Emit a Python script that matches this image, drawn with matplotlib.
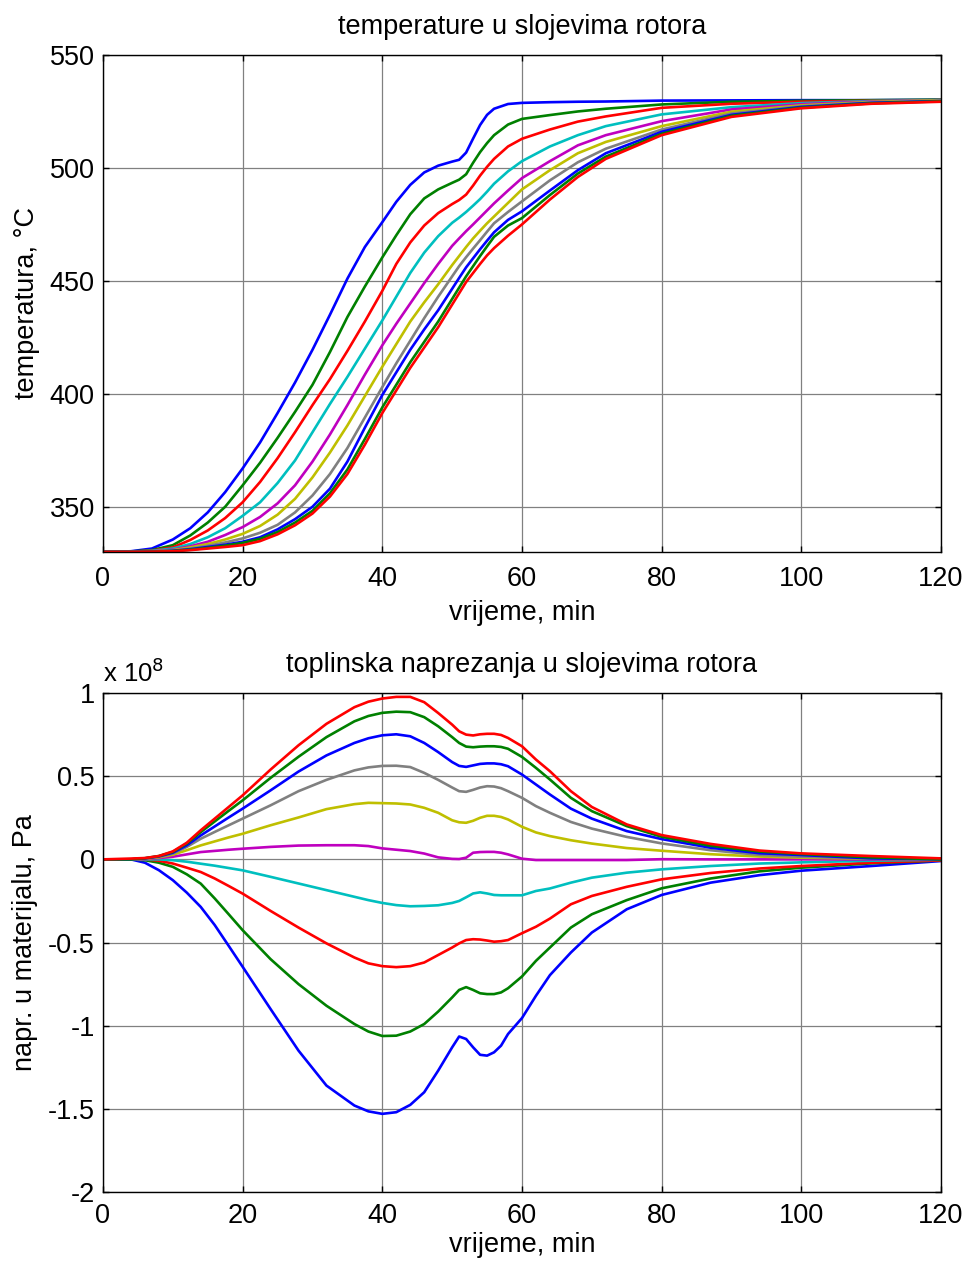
import matplotlib
matplotlib.use("Agg")
import matplotlib.pyplot as plt

plt.rcParams['font.family'] = ['Liberation Sans', 'DejaVu Sans']
plt.rcParams['axes.unicode_minus'] = False

# ---- temperature in rotor layers (deg C), layer 1 = outer surface ----
time_temp = [0, 4, 7, 10, 12.5, 15, 17.5, 20, 22.5, 25, 27.5, 30, 32.5, 35, 37.5, 40,
             42, 44, 46, 48, 50, 51, 52, 53, 54, 55, 56, 58, 60, 64, 68, 72, 80, 90,
             100, 110, 120]
temp_layer1 = [330, 330.3, 331.5, 335.5, 340.5, 347.5, 356.5, 367, 378.5, 391.5, 405, 419.5,
               435, 451, 465, 476, 485, 492.5, 498, 501, 502.8, 503.6, 506.8, 513, 519,
               523.5, 526.2, 528.3, 528.8, 529.1, 529.3, 529.4, 529.8, 529.9, 530, 530, 530.2]
temp_layer2 = [330, 330.2, 330.8, 333, 337.3, 343, 350, 359.5, 369.5, 380.5, 392, 404,
               418.5, 434, 447.5, 460.4, 470.2, 479.5, 486.5, 490.5, 493.4, 494.8, 497.2,
               502.3, 507, 511, 514.5, 519.2, 521.7, 523.4, 525, 526.2, 528.1, 529.3, 529.7,
               530, 530.2]
temp_layer3 = [330, 330.1, 330.6, 332, 335.3, 339.5, 345, 352, 361, 371.5, 383, 395, 406.5,
               419, 432, 445.6, 457.5, 467, 474.5, 480, 484, 485.8, 488.2, 492.2, 496.6,
               500.5, 504, 509.5, 512.9, 517, 520.5, 522.8, 526.6, 528.4, 529.3, 529.7, 530]
temp_layer4 = [330, 330.1, 330.5, 331.5, 333.5, 336.5, 340.5, 346, 352, 360.5, 370.5, 383,
               395.5, 407.5, 420, 432.5, 443, 453.5, 462.5, 469.8, 475.7, 478, 480.5, 483.3,
               486.2, 489.5, 493, 498.5, 503, 509.5, 514.5, 518.5, 523.7, 526.9, 528.7,
               529.6, 530]
temp_layer5 = [330, 330.05, 330.3, 331, 332.5, 334.5, 337.5, 341, 345.5, 351.5, 359.5, 370,
               382, 395, 408.5, 421.5, 431, 440, 449, 457.5, 465.5, 468.8, 472, 475, 478.1,
               481.2, 484.3, 490, 495.5, 503, 510, 514.5, 520.7, 525.9, 528.2, 529.4, 530]
temp_layer6 = [330, 330, 330.2, 330.8, 332, 333.5, 335.5, 338, 341.5, 346.5, 353.5, 363,
               374, 386, 399, 412, 422, 432, 440.5, 448.5, 457, 461, 465, 468.8, 472.2,
               475.5, 478.5, 484.5, 490.5, 499, 506.5, 511.5, 518.5, 524.9, 527.7, 529.2, 530]
temp_layer7 = [330, 330, 330.2, 330.6, 331.5, 332.7, 334.2, 336, 338.5, 342, 347.5, 355,
               364.5, 376, 389.5, 403, 413.5, 423.5, 433.5, 443, 452, 456.5, 460.5, 464.3,
               468, 471.8, 475.5, 480.5, 485.2, 494.5, 502.5, 508.5, 517, 524.1, 527.3, 529,
               529.8]
temp_layer8 = [330, 330, 330.15, 330.5, 331.2, 332.2, 333.2, 334.5, 336.5, 340, 344.5, 350,
               358, 370, 385, 399.5, 409.5, 419.5, 428.5, 437, 446.5, 451.3, 456, 460, 464,
               467.8, 471.5, 477, 480.8, 490, 499, 506.5, 516, 523.5, 527, 528.8, 529.6]
temp_layer9 = [330, 330, 330.1, 330.4, 331, 331.8, 332.8, 334, 335.8, 338.8, 343, 348.2,
               356, 366.5, 380, 394, 404, 414, 423, 432, 442, 447, 452, 456.5, 461, 465.3,
               469.5, 474.5, 477.8, 488, 497.5, 505, 515.1, 523.1, 526.7, 528.6, 529.5]
temp_layer10 = [330, 330, 330.1, 330.3, 330.8, 331.5, 332.2, 333, 334.8, 337.8, 341.8, 347,
                354.5, 364.5, 377.5, 391.5, 401.5, 411.5, 420.5, 429.5, 439.5, 444.5, 449.5,
                453.5, 457.5, 461.3, 464.5, 470, 475, 486, 496, 504, 514.5, 522.6, 526.4,
                528.4, 529.3]

# ---- thermal stress in rotor layers (x 1e8 Pa) ----
time_stress = [0, 4, 6, 8, 10, 12, 14, 16, 18, 20, 24, 28, 32, 36, 38, 40, 42, 44, 46, 48,
               50, 51, 52, 53, 54, 55, 56, 57, 58, 60, 62, 64, 67, 70, 75, 80, 87, 94, 100,
               110, 120]
stress_layer1 = [0, 0, -0.02, -0.065, -0.125, -0.2, -0.286, -0.395, -0.52, -0.646, -0.9,
                 -1.15, -1.36, -1.48, -1.515, -1.53, -1.52, -1.476, -1.4, -1.27, -1.13, -1.065,
                 -1.08, -1.13, -1.175, -1.18, -1.16, -1.12, -1.05, -0.954, -0.82, -0.696,
                 -0.56, -0.44, -0.3, -0.214, -0.14, -0.095, -0.068, -0.04, -0.01]
stress_layer2 = [0, 0, -0.005, -0.02, -0.045, -0.09, -0.146, -0.235, -0.33, -0.426, -0.6,
                 -0.75, -0.88, -0.99, -1.035, -1.062, -1.06, -1.035, -0.99, -0.915, -0.83,
                 -0.785, -0.768, -0.785, -0.805, -0.81, -0.81, -0.8, -0.775, -0.704, -0.61,
                 -0.53, -0.41, -0.33, -0.245, -0.174, -0.115, -0.072, -0.05, -0.024, -0.006]
stress_layer3 = [0, 0, 0, -0.008, -0.025, -0.05, -0.076, -0.115, -0.16, -0.206, -0.31, -0.41,
                 -0.505, -0.59, -0.625, -0.642, -0.648, -0.642, -0.62, -0.575, -0.53, -0.505,
                 -0.485, -0.48, -0.482, -0.488, -0.495, -0.492, -0.485, -0.444, -0.405,
                 -0.356, -0.27, -0.22, -0.165, -0.12, -0.082, -0.055, -0.04, -0.02, -0.006]
stress_layer4 = [0, 0, 0, 0, -0.005, -0.014, -0.026, -0.038, -0.052, -0.066, -0.105, -0.145,
                 -0.185, -0.225, -0.245, -0.262, -0.275, -0.282, -0.28, -0.276, -0.262, -0.25,
                 -0.228, -0.205, -0.198, -0.205, -0.214, -0.216, -0.216, -0.216, -0.19,
                 -0.175, -0.14, -0.11, -0.08, -0.06, -0.04, -0.025, -0.018, -0.008, -0.002]
stress_layer5 = [0, 0, 0.002, 0.008, 0.016, 0.03, 0.044, 0.051, 0.058, 0.064, 0.075, 0.083,
                 0.085, 0.085, 0.08, 0.066, 0.058, 0.05, 0.035, 0.012, 0.003, 0.002, 0.01,
                 0.04, 0.044, 0.045, 0.045, 0.04, 0.03, 0.004, -0.004, -0.004, -0.004, -0.004,
                 -0.004, 0.001, 0, 0, 0, 0, 0]
stress_layer6 = [0, 0, 0.004, 0.012, 0.028, 0.055, 0.084, 0.108, 0.132, 0.154, 0.205, 0.252,
                 0.302, 0.332, 0.34, 0.338, 0.336, 0.33, 0.31, 0.28, 0.235, 0.223, 0.22, 0.232,
                 0.25, 0.262, 0.262, 0.255, 0.24, 0.196, 0.162, 0.14, 0.115, 0.095, 0.068,
                 0.052, 0.031, 0.017, 0.01, 0.004, 0]
stress_layer7 = [0, 0, 0.005, 0.015, 0.035, 0.075, 0.124, 0.165, 0.205, 0.245, 0.325, 0.41,
                 0.478, 0.535, 0.553, 0.562, 0.563, 0.555, 0.52, 0.478, 0.432, 0.41, 0.406,
                 0.418, 0.432, 0.44, 0.438, 0.428, 0.41, 0.37, 0.32, 0.28, 0.225, 0.185,
                 0.135, 0.096, 0.055, 0.027, 0.016, 0.006, 0]
stress_layer8 = [0, 0, 0.006, 0.018, 0.04, 0.085, 0.144, 0.198, 0.252, 0.305, 0.415, 0.528,
                 0.625, 0.7, 0.728, 0.746, 0.752, 0.74, 0.7, 0.645, 0.585, 0.562, 0.556, 0.565,
                 0.574, 0.577, 0.577, 0.572, 0.56, 0.51, 0.45, 0.39, 0.305, 0.245, 0.17,
                 0.122, 0.07, 0.037, 0.026, 0.006, 0]
stress_layer9 = [0, 0, 0.007, 0.02, 0.045, 0.095, 0.164, 0.228, 0.292, 0.355, 0.49, 0.617,
                 0.735, 0.83, 0.862, 0.881, 0.888, 0.885, 0.855, 0.8, 0.735, 0.7, 0.678, 0.674,
                 0.678, 0.68, 0.68, 0.676, 0.665, 0.616, 0.55, 0.48, 0.37, 0.29, 0.2, 0.136,
                 0.082, 0.047, 0.032, 0.012, 0]
stress_layer10 = [0, 0.005, 0.008, 0.02, 0.048, 0.1, 0.175, 0.245, 0.315, 0.385, 0.54, 0.686,
                  0.815, 0.915, 0.948, 0.967, 0.977, 0.977, 0.945, 0.88, 0.81, 0.77, 0.75,
                  0.745, 0.752, 0.755, 0.755, 0.748, 0.73, 0.68, 0.6, 0.53, 0.41, 0.315, 0.21,
                  0.146, 0.093, 0.053, 0.036, 0.02, 0.006]

temps = [temp_layer1, temp_layer2, temp_layer3, temp_layer4, temp_layer5,
         temp_layer6, temp_layer7, temp_layer8, temp_layer9, temp_layer10]
stresses = [stress_layer1, stress_layer2, stress_layer3, stress_layer4, stress_layer5,
            stress_layer6, stress_layer7, stress_layer8, stress_layer9, stress_layer10]

# matlab-like colour order
layer_colors = ['#0000ff', '#008000', '#ff0000', '#00bfbf', '#bf00bf',
                '#bfbf00', '#808080', '#0000ff', '#008000', '#ff0000']

time_ticks = [0, 20, 40, 60, 80, 100, 120]
temp_ticks = [350, 400, 450, 500, 550]
stress_ticks = [-2, -1.5, -1, -0.5, 0, 0.5, 1]
stress_tick_labels = ['-2', '-1.5', '-1', '-0.5', '0', '0.5', '1']

FS = 19.5


def style_axis(axis, xpad, labelpad):
    axis.set_xlim(0, 120)
    axis.set_xticks(time_ticks)
    axis.grid(True, color='0.5', linewidth=0.9)
    axis.set_axisbelow(True)
    axis.tick_params(direction='in', top=True, right=True, length=4, width=1,
                     labelsize=FS)
    axis.tick_params(axis='x', pad=xpad)
    axis.tick_params(axis='y', pad=6)
    for spine in axis.spines.values():
        spine.set_linewidth(1)
    axis.set_xlabel("vrijeme, min", fontsize=FS, labelpad=labelpad)


fig = plt.figure(figsize=(9.68, 12.61), dpi=100)

# Plot Graph - temperature
ax1 = fig.add_axes([0.1064, 0.5623, 0.8657, 0.3941])
for vals, col in zip(temps, layer_colors):
    ax1.plot(time_temp, vals, color=col, linewidth=1.9)
ax1.set_ylim(330, 550)
ax1.set_yticks(temp_ticks)
style_axis(ax1, 10, 6)
ax1.set_ylabel("temperatura, °C", fontsize=FS, labelpad=7)
ax1.set_title("temperature u slojevima rotora", fontsize=FS, pad=15)

# Plot Graph - stress
ax2 = fig.add_axes([0.1064, 0.0547, 0.8657, 0.3957])
for vals, col in zip(stresses, layer_colors):
    ax2.plot(time_stress, vals, color=col, linewidth=1.9)
ax2.set_ylim(-2, 1)
ax2.set_yticks(stress_ticks)
ax2.set_yticklabels(stress_tick_labels)
style_axis(ax2, 8, 2)
ax2.set_ylabel("napr. u materijalu, Pa", fontsize=FS, labelpad=7)
ax2.set_title("toplinska naprezanja u slojevima rotora", fontsize=FS, pad=15)
ax2.text(0.0, 1.012, "x 10$^{8}$", transform=ax2.transAxes, fontsize=FS - 1,
         ha='left', va='bottom')

fig.savefig("out.png", dpi=100)
